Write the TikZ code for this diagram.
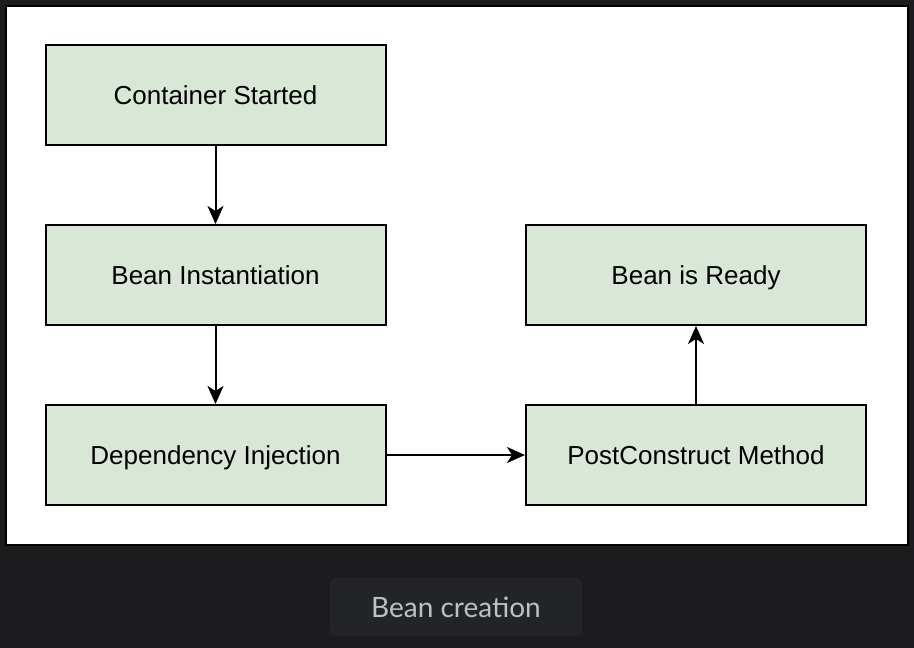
\documentclass[tikz,border=0pt]{standalone}
\usepackage{fontspec}
\setmainfont{Liberation Sans}
\newfontfamily\capfont{Lato}
\usetikzlibrary{arrows.meta}
\definecolor{pagebg}{HTML}{1C1C1E}
\definecolor{capbg}{HTML}{232427}
\definecolor{captext}{HTML}{BFC0C4}
\definecolor{boxfill}{HTML}{D9E7D6}
\tikzset{
  stepbox/.style={draw=black, line width=2pt, fill=boxfill, minimum width=340pt, minimum height=100pt, inner sep=0pt, text height=18.6pt, text depth=0pt, font=\fontsize{26}{30}\selectfont},
  flow/.style={draw=black, line width=2pt, -{Stealth[length=18pt,width=16pt,inset=5pt]}},
}
\begin{document}
\begin{tikzpicture}[x=1pt,y=-1pt]
\useasboundingbox (0,0) rectangle (914,648);
\fill[pagebg] (0,0) rectangle (914,648);
\draw[fill=white, draw=black, line width=2pt] (6,6) rectangle (908,545);
\node[stepbox] (cs) at (215.5,95) {Container Started};
\node[stepbox] (bi) at (215.5,275) {Bean Instantiation};
\node[stepbox] (di) at (215.5,455) {Dependency Injection};
\node[stepbox] (br) at (696,275) {Bean is Ready};
\node[stepbox] (pc) at (696,455) {PostConstruct Method};
\draw[flow] (cs) -- (bi);
\draw[flow] (bi) -- (di);
\draw[flow] (di) -- (pc);
\draw[flow] (pc) -- (br);
\node[fill=capbg, rounded corners=6pt, minimum width=252pt, minimum height=58pt, inner sep=0pt, text height=20pt, text depth=0pt, text=captext, font=\capfont\fontsize{28}{32}\selectfont] (cap) at (456,607) {Bean creation};
\end{tikzpicture}
\end{document}
